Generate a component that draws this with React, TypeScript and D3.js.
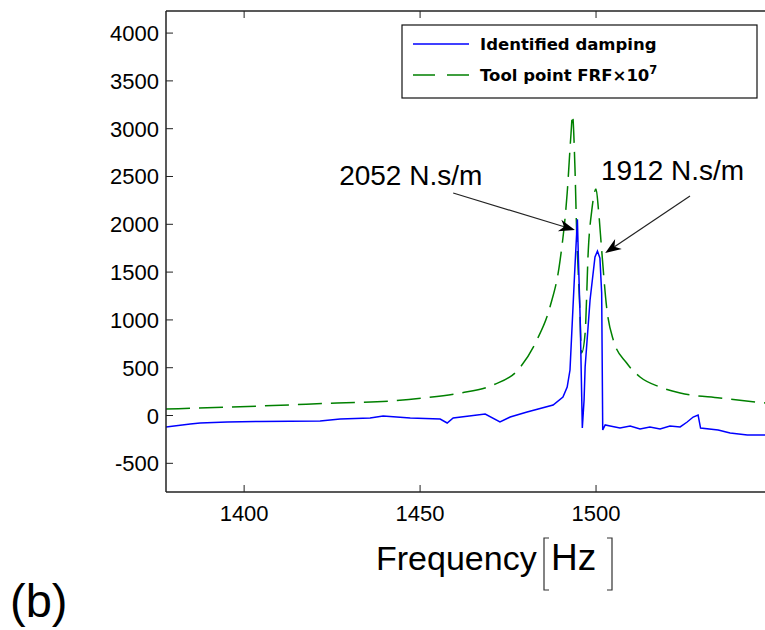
import React from "react";
import * as d3 from "d3";

const blueFreq = [1377.8,1384.7,1387.5,1395.2,1404.5,1421.6,1427.3,1435.8,1439.5,1447.2,1455.7,1457.7,1459.4,1468.5,1472.7,1475.6,1480.4,1487.8,1490.6,1491.8,1492.6,1493.1,1494.0,1494.7,1495.0,1495.5,1496.1,1496.6,1496.9,1498.3,1499.7,1500.4,1501.1,1501.6,1501.9,1502.6,1504.0,1506.8,1509.7,1512.5,1515.3,1518.2,1521.0,1523.9,1525.9,1527.6,1529.0,1529.7,1534.7,1538.1,1543.0,1548.1];
const blueDamping = [-120,-89,-78,-68,-63,-58,-37,-26,-5,-26,-37,-78,-26,16,-68,-16,37,110,194,298,476,863,1553,2052,1627,999,-131,162,507,1208,1658,1720,1647,1281,-152,-99,-110,-131,-110,-141,-120,-141,-110,-120,-68,-16,5,-131,-152,-183,-204,-204];

const greenFreq = [1377.8,1404.5,1426.4,1441.5,1450.9,1461.4,1470.7,1477.8,1483.2,1486.9,1489.8,1491.8,1492.9,1493.3,1494.0,1494.5,1495.3,1495.9,1496.9,1497.8,1498.8,1500.0,1500.7,1501.6,1503.0,1504.9,1508.7,1512.5,1518.2,1523.9,1535.2,1548.1];
const greenFRF = [68,99,131,152,183,235,319,476,790,1135,1627,2327,2955,3143,2599,1909,1208,654,863,1731,2149,2369,2149,1731,1135,790,549,403,298,235,183,131];

const xTicks = [1400, 1450, 1500];
const yTicks = [-500, 0, 500, 1000, 1500, 2000, 2500, 3000, 3500, 4000];

const annotLabels = ["2052 N.s/m", "1912 N.s/m"];
const annotTextFreq = [1427.0, 1501.4];
const annotTextVal = [2408, 2463];
const arrowStartFreq = [1459.4, 1526.7];
const arrowStartVal = [2327, 2296];
const arrowTipFreq = [1494.0, 1502.6];
const arrowTipVal = [1940, 1700];

const legendLabels = ["Identified damping", "Tool point FRF×10"];

export default function App() {
  const left = 166, right = 772, top = 11, bottom = 492;
  const x = d3.scaleLinear().domain([1377.8, 1550]).range([left, right]);
  const y = d3.scaleLinear().domain([-800, 4231]).range([bottom, top]);

  const blueData = blueFreq.map((f, i) => [f, blueDamping[i]] as [number, number]);
  const greenData = greenFreq.map((f, i) => [f, greenFRF[i]] as [number, number]);
  const lineLin = d3.line<[number, number]>().x(d => x(d[0])).y(d => y(d[1]));
  const lineSmooth = d3.line<[number, number]>().x(d => x(d[0])).y(d => y(d[1])).curve(d3.curveMonotoneX);

  const font = "Arial, 'Liberation Sans', sans-serif";
  const legFont = "'DejaVu Sans', sans-serif";

  return (
    <svg width={765} height={630} style={{ position: "absolute", left: 0, top: 0, background: "#fff" }}>
      <defs>
        <clipPath id="plotclip">
          <rect x={left} y={top} width={right - left} height={bottom - top} />
        </clipPath>
      </defs>
      <rect x={0} y={0} width={765} height={630} fill="#fff" />
      <g clipPath="url(#plotclip)">
        <path d={lineSmooth(greenData) || ""} fill="none" stroke="#008000" strokeWidth={1.5} strokeDasharray="24 9" />
        <path d={lineLin(blueData) || ""} fill="none" stroke="#0000ff" strokeWidth={1.5} />
      </g>
      {/* axes */}
      <line x1={left} x2={765} y1={top} y2={top} stroke="#222" strokeWidth={1.5} />
      <line x1={left} x2={765} y1={bottom} y2={bottom} stroke="#222" strokeWidth={1.5} />
      <line x1={left} x2={left} y1={top} y2={bottom} stroke="#222" strokeWidth={1.5} />
      {xTicks.map(t => (
        <g key={"x" + t}>
          <line x1={x(t)} x2={x(t)} y1={bottom} y2={bottom - 7} stroke="#222" strokeWidth={1} />
          <line x1={x(t)} x2={x(t)} y1={top} y2={top + 7} stroke="#222" strokeWidth={1} />
          <text x={x(t)} y={521} textAnchor="middle" fontFamily={font} fontSize={22} fill="#000">{t}</text>
        </g>
      ))}
      {yTicks.map(t => (
        <g key={"y" + t}>
          <line x1={left} x2={left + 7} y1={y(t)} y2={y(t)} stroke="#222" strokeWidth={1} />
          <text x={159} y={y(t) + 8} textAnchor="end" fontFamily={font} fontSize={22} fill="#000">{t}</text>
        </g>
      ))}
      {/* annotations */}
      {annotLabels.map((lab, i) => {
        const x1 = x(arrowStartFreq[i]), y1 = y(arrowStartVal[i]);
        const x2 = x(arrowTipFreq[i]), y2 = y(arrowTipVal[i]);
        const ang = Math.atan2(y2 - y1, x2 - x1);
        const L = 16, W = 6;
        const bx = x2 - L * Math.cos(ang), by = y2 - L * Math.sin(ang);
        const mx = x2 - 0.7 * L * Math.cos(ang), my = y2 - 0.7 * L * Math.sin(ang);
        const p1 = [bx + W * Math.sin(ang), by - W * Math.cos(ang)];
        const p2 = [bx - W * Math.sin(ang), by + W * Math.cos(ang)];
        return (
          <g key={lab}>
            <text x={x(annotTextFreq[i])} y={y(annotTextVal[i])} fontFamily={font} fontSize={28} fill="#000">{lab}</text>
            <line x1={x1} y1={y1} x2={mx} y2={my} stroke="#222" strokeWidth={1.2} />
            <path d={`M${x2},${y2}L${p1[0]},${p1[1]}L${mx},${my}L${p2[0]},${p2[1]}Z`} fill="#000" />
          </g>
        );
      })}
      {/* legend */}
      <rect x={402} y={25} width={355} height={73} fill="#fff" stroke="#111" strokeWidth={1.2} />
      <line x1={413} x2={469} y1={44} y2={44} stroke="#0000ff" strokeWidth={1.5} />
      <line x1={413} x2={469} y1={75} y2={75} stroke="#008000" strokeWidth={1.5} strokeDasharray="22 12" />
      <text x={480} y={50} fontFamily={legFont} fontWeight="bold" fontSize={16.5} fill="#000">{legendLabels[0]}</text>
      <text x={480} y={81} fontFamily={legFont} fontWeight="bold" fontSize={16.5} fill="#000">
        {legendLabels[1]}<tspan dy={-7} fontSize={11.5}>7</tspan>
      </text>
      {/* x label */}
      <text x={376} y={570} fontFamily={font} fontSize={34} fill="#000">Frequency</text>
      <path d="M549,538 L544,538 L544,590 L549,590" fill="none" stroke="#333" strokeWidth={1.2} />
      <text x={551} y={570} fontFamily={font} fontSize={37} fill="#000">Hz</text>
      <path d="M607,538 L612,538 L612,590 L607,590" fill="none" stroke="#333" strokeWidth={1.2} />
      <text x={10} y={617} fontFamily={font} fontSize={47} fill="#000">(b)</text>
    </svg>
  );
}
